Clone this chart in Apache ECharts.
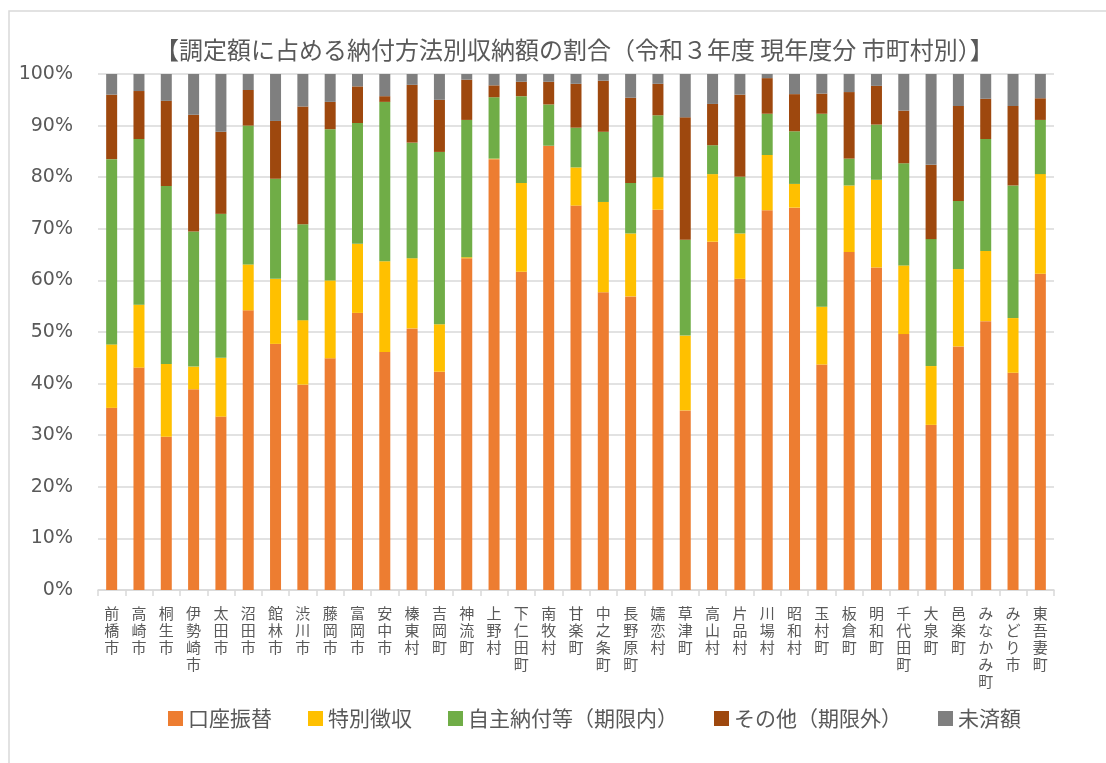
<!DOCTYPE html>
<html>
<head>
<meta charset="utf-8">
<script src="https://cdn.jsdelivr.net/npm/echarts@6/dist/echarts.min.js"></script>
<style>
html, body { margin: 0; padding: 0; background: #fff; }
#chart { width: 1106px; height: 763px; }
</style>
</head>
<body>
<div id="chart"></div>
<script>
var towns = ['前橋市', '高崎市', '桐生市', '伊勢崎市', '太田市', '沼田市', '館林市', '渋川市', '藤岡市', '富岡市', '安中市', '榛東村',
    '吉岡町', '神流町', '上野村', '下仁田町', '南牧村', '甘楽町', '中之条町', '長野原町', '嬬恋村', '草津町', '高山村', '片品村',
    '川場村', '昭和村', '玉村町', '板倉町', '明和町', '千代田町', '大泉町', '邑楽町', 'みなかみ町', 'みどり市', '東吾妻町'];

// 口座振替
var kouza = [35.3, 43.1, 29.7, 38.9, 33.6, 54.2, 47.7, 39.8, 44.9, 53.7, 46.1, 50.7,
    42.3, 64.3, 83.5, 61.7, 86.1, 74.5, 57.7, 56.9, 73.7, 34.8, 67.5, 60.3,
    73.6, 74.1, 43.7, 65.5, 62.5, 49.6, 32.0, 47.2, 52.1, 42.1, 61.3];
// 特別徴収
var tokubetsu = [12.3, 12.2, 14.1, 4.4, 11.4, 8.9, 12.6, 12.5, 15.1, 13.4, 17.6, 13.6,
    9.2, 0.2, 0.1, 17.2, 0, 7.4, 17.5, 12.2, 6.3, 14.5, 13.1, 8.8,
    10.7, 4.6, 11.2, 12.9, 17.0, 13.3, 11.4, 15.0, 13.6, 10.6, 19.3];
// 自主納付等（期限内）
var jishu = [35.9, 32.1, 34.5, 26.2, 27.9, 26.9, 19.4, 18.6, 29.3, 23.4, 30.9, 22.4,
    33.4, 26.6, 11.9, 16.8, 8.0, 7.7, 13.6, 9.8, 12.0, 18.6, 5.6, 11.0,
    8.0, 10.2, 37.4, 5.2, 10.7, 19.8, 24.6, 13.2, 21.7, 25.7, 10.5];
// その他（期限外）
var sonota = [12.5, 9.3, 16.5, 22.6, 15.9, 6.9, 11.2, 22.8, 5.3, 7.1, 1.1, 11.2,
    10.1, 7.8, 2.3, 2.8, 4.4, 8.5, 9.9, 16.5, 6.1, 23.7, 8.0, 15.9,
    6.9, 7.2, 3.9, 12.9, 7.5, 10.2, 14.4, 18.4, 7.8, 15.4, 4.2];
// 未済額
var misai = [4.0, 3.3, 5.2, 7.9, 11.2, 3.1, 9.1, 6.3, 5.4, 2.4, 4.3, 2.1,
    5.0, 1.1, 2.2, 1.5, 1.5, 1.9, 1.3, 4.6, 1.9, 8.4, 5.8, 4.0,
    0.8, 3.9, 3.8, 3.5, 2.3, 7.1, 17.6, 6.2, 4.8, 6.2, 4.7];

var seriesNames = ['口座振替', '特別徴収', '自主納付等（期限内）', 'その他（期限外）', '未済額'];
var seriesData = [kouza, tokubetsu, jishu, sonota, misai];
var colors = ['#ED7D31', '#FFC000', '#70AD47', '#9E480E', '#7F7F7F'];

var font = 'DejaVu Sans, "Noto Sans CJK JP", sans-serif';
var chart = echarts.init(document.getElementById('chart'));

chart.setOption({
    color: colors,
    textStyle: { fontFamily: font },
    graphic: [{
        type: 'rect',
        shape: { x: 9, y: 11, width: 1200, height: 800 },
        style: { fill: 'none', stroke: '#d9d9d9', lineWidth: 1.5 },
        silent: true
    }],
    title: {
        text: '【調定額に占める納付方法別収納額の割合（令和３年度 現年度分 市町村別）】',
        left: 150,
        top: 33,
        textStyle: {
            fontFamily: '"Noto Sans CJK JP", sans-serif',
            fontSize: 24,
            fontWeight: 'normal',
            color: '#595959'
        }
    },
    legend: {
        data: seriesNames,
        left: 163,
        top: 703,
        itemWidth: 15,
        itemHeight: 15,
        itemGap: 36,
        icon: 'rect',
        textStyle: {
            fontFamily: '"Noto Sans CJK JP", sans-serif',
            fontSize: 21,
            color: '#595959'
        }
    },
    grid: {
        left: 98,
        right: 52,
        top: 74,
        bottom: 173,
        containLabel: false
    },
    xAxis: {
        type: 'category',
        data: towns,
        axisLine: { lineStyle: { color: '#d9d9d9', width: 1.5 } },
        axisTick: { show: true, length: 6, lineStyle: { color: '#d9d9d9', width: 1.5 } },
        axisLabel: {
            interval: 0,
            margin: 15,
            fontFamily: '"Noto Sans CJK JP", sans-serif',
            fontSize: 15,
            lineHeight: 17,
            color: '#595959',
            formatter: function (v) { return v.split('').join('\n'); }
        }
    },
    yAxis: {
        type: 'value',
        min: 0,
        max: 100,
        interval: 10,
        axisLine: { show: false },
        axisTick: { show: false },
        splitLine: { lineStyle: { color: '#d9d9d9', width: 1.5 } },
        axisLabel: {
            formatter: '{value}%',
            fontSize: 19,
            color: '#595959',
            margin: 25
        }
    },
    series: seriesNames.map(function (name, i) {
        return {
            name: name,
            type: 'bar',
            stack: 'total',
            barWidth: 11,
            data: seriesData[i]
        };
    })
});
</script>
</body>
</html>
